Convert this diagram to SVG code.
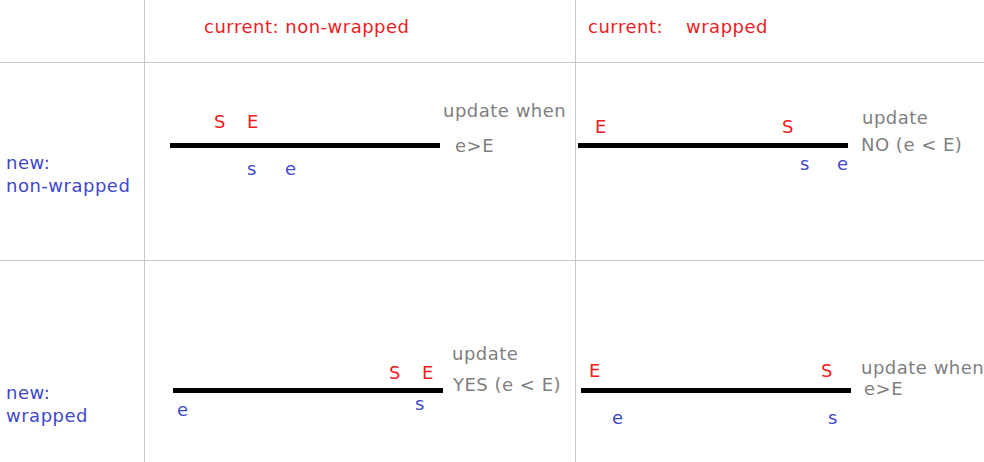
<svg xmlns="http://www.w3.org/2000/svg" width="984" height="462" viewBox="0 0 984 462">
<style>
text{font-family:"DejaVu Sans",Verdana,sans-serif;font-size:18px;letter-spacing:0.5px}
.r{fill:#ee1c24}
.b{fill:#3f48cc}
.g{fill:#7f7f7f}
.grid{stroke:#c8c8c8;stroke-width:1}
.bar{stroke:#000;stroke-width:5}
</style>
<rect width="984" height="462" fill="#fff"/>
<g id="grid">
<line class="grid" x1="144.5" y1="0" x2="144.5" y2="462"/>
<line class="grid" x1="575.5" y1="0" x2="575.5" y2="462"/>
<line class="grid" x1="0" y1="62.5" x2="984" y2="62.5"/>
<line class="grid" x1="0" y1="260.5" x2="984" y2="260.5"/>
</g>
<g id="headers">
<text class="r" x="204" y="33">current: non-wrapped</text>
<text class="r" x="588" y="33">current:</text>
<text class="r" x="686" y="33">wrapped</text>
<text class="b" x="6" y="169">new:</text>
<text class="b" x="6" y="192">non-wrapped</text>
<text class="b" x="6" y="399">new:</text>
<text class="b" x="6" y="422">wrapped</text>
</g>
<g id="cell-nn">
<line class="bar" x1="170" y1="145.5" x2="440" y2="145.5"/>
<text class="r" x="214" y="128">S</text>
<text class="r" x="247" y="128">E</text>
<text class="b" x="247" y="175">s</text>
<text class="b" x="285" y="175">e</text>
<text class="g" x="443" y="117">update when</text>
<text class="g" x="455" y="152">e&gt;E</text>
</g>
<g id="cell-nw">
<line class="bar" x1="578" y1="145.5" x2="848" y2="145.5"/>
<text class="r" x="595" y="133">E</text>
<text class="r" x="782" y="133">S</text>
<text class="b" x="800" y="170">s</text>
<text class="b" x="837" y="170">e</text>
<text class="g" x="862" y="124">update</text>
<text class="g" x="861" y="151">NO (e &lt; E)</text>
</g>
<g id="cell-wn">
<line class="bar" x1="173" y1="390.5" x2="443" y2="390.5"/>
<text class="r" x="389" y="379">S</text>
<text class="r" x="422" y="379">E</text>
<text class="b" x="177" y="416">e</text>
<text class="b" x="415" y="410">s</text>
<text class="g" x="452" y="360">update</text>
<text class="g" x="453" y="391">YES (e &lt; E)</text>
</g>
<g id="cell-ww">
<line class="bar" x1="581" y1="390.5" x2="851" y2="390.5"/>
<text class="r" x="589" y="377">E</text>
<text class="r" x="821" y="377">S</text>
<text class="b" x="612" y="424">e</text>
<text class="b" x="828" y="424">s</text>
<text class="g" x="861" y="374">update when</text>
<text class="g" x="864" y="395">e&gt;E</text>
</g>
</svg>
